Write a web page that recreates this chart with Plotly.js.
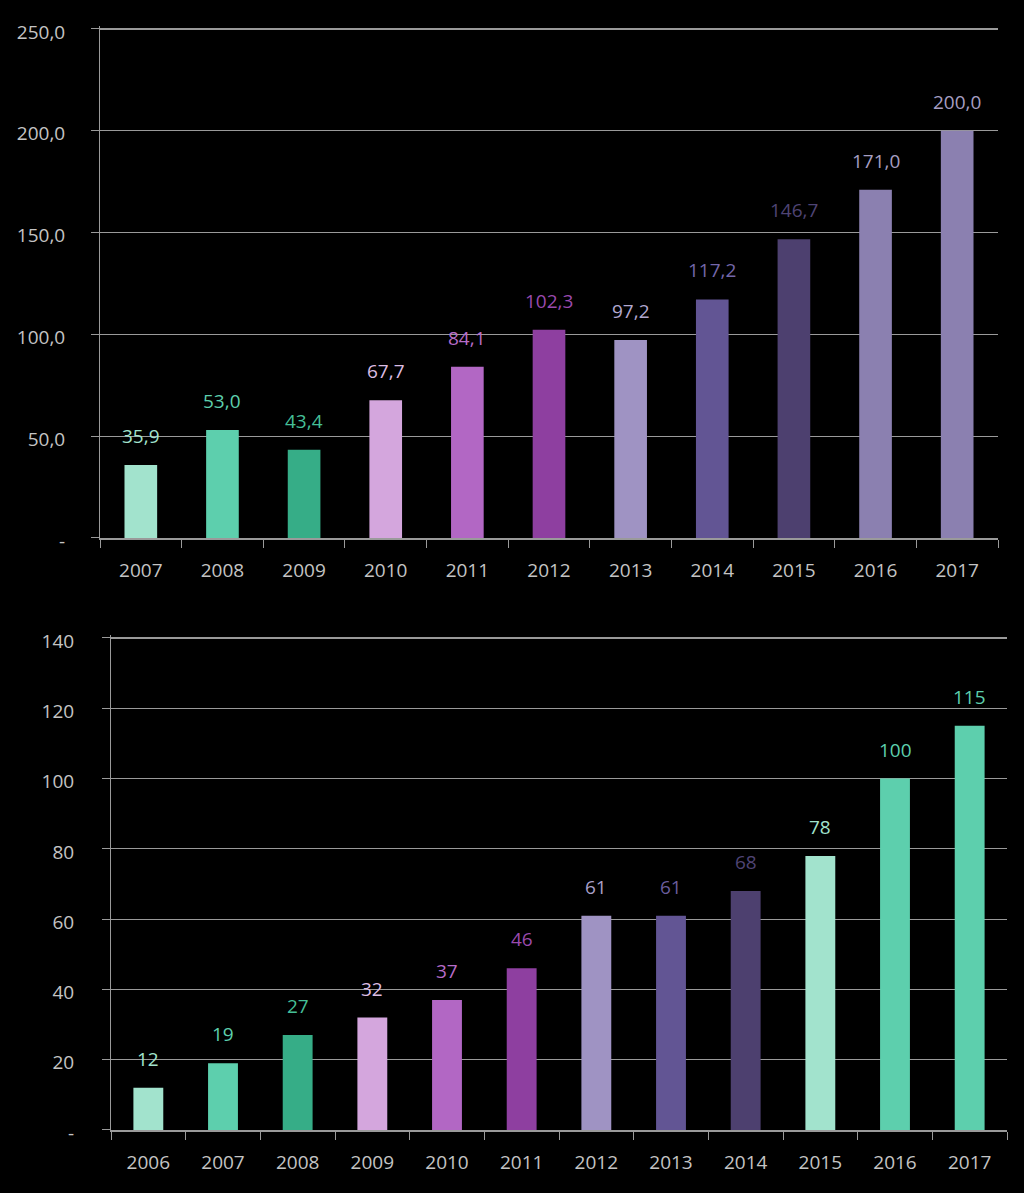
<!DOCTYPE html>
<html>
<head>
<meta charset="utf-8">
<script src="https://cdn.plot.ly/plotly-3.0.1.min.js"></script>
<style>html,body{margin:0;padding:0;background:#000;}#chart{width:1024px;height:1193px;}</style>
</head>
<body>
<div id="chart"></div>
<script>
// ---- Top chart data ----
const topYears = ['2007','2008','2009','2010','2011','2012','2013','2014','2015','2016','2017'];
const topValues = [35.9, 53.0, 43.4, 67.7, 84.1, 102.3, 97.2, 117.2, 146.7, 171.0, 200.0];
const topBarColors = ['#a2e3cd','#5dcfad','#36ad87','#d4a6dd','#b267c4','#8e3fa0','#9f93c3','#625594','#4d406f','#8b80b0','#8b80b0'];
const topLabelColors = ['#a2e3cd','#5dcfad','#45bf97','#dcbde3','#b66cc8','#9a4aae','#b2a8d0','#7467aa','#4f4474','#a69ec2','#a69ec2'];
const topTickVals = [0, 50, 100, 150, 200, 250];
const topTickText = ['-', '50,0', '100,0', '150,0', '200,0', '250,0'];

// ---- Bottom chart data ----
const botYears = ['2006','2007','2008','2009','2010','2011','2012','2013','2014','2015','2016','2017'];
const botValues = [12, 19, 27, 32, 37, 46, 61, 61, 68, 78, 100, 115];
const botBarColors = ['#a2e3cd','#5dcfad','#36ad87','#d4a6dd','#b267c4','#8e3fa0','#9f93c3','#625594','#4d406f','#a2e3cd','#5dcfad','#5dcfad'];
const botLabelColors = ['#a2e3cd','#5dcfad','#45bf97','#dcbde3','#b66cc8','#9a4aae','#a99fc8','#6a5d9c','#4f4474','#a2e3cd','#5dcfad','#5dcfad'];
const botTickVals = [0, 20, 40, 60, 80, 100, 120, 140];
const botTickText = ['-', '20', '40', '60', '80', '100', '120', '140'];

const FONT = 'Open Sans, Segoe UI, sans-serif';
const GRID = '#9a9a9a';
const TXT = '#c4c4c4';
const H = 1193, W = 1024;

const traces = [
  {type:'bar', x: topYears, y: topValues, xaxis:'x', yaxis:'y', width:0.4,
   marker:{color: topBarColors, line:{width:0}}, hoverinfo:'none'},
  {type:'bar', x: botYears, y: botValues, xaxis:'x2', yaxis:'y2', width:0.4,
   marker:{color: botBarColors, line:{width:0}}, hoverinfo:'none'}
];

const annotations = [];
topYears.forEach((yr, i) => {
  annotations.push({xref:'x', yref:'y', x: i, y: topValues[i],
    text: topValues[i].toFixed(1).replace('.', ','), showarrow:false,
    xanchor:'center', yanchor:'middle', yshift: 29, font:{family:FONT, size:19, color: topLabelColors[i]}});
});
botYears.forEach((yr, i) => {
  annotations.push({xref:'x2', yref:'y2', x: i, y: botValues[i],
    text: String(botValues[i]), showarrow:false,
    xanchor:'center', yanchor:'middle', yshift: 29, font:{family:FONT, size:19, color: botLabelColors[i]}});
});

const xCommon = {type:'category', tickson:'boundaries', ticks:'outside', ticklen:8, tickwidth:1,
  tickcolor:GRID, showline:true, linecolor:GRID, linewidth:1.5, showgrid:false, zeroline:false,
  tickfont:{family:FONT, size:19, color:TXT}, fixedrange:true};
const yCommon = {ticks:'outside', ticklen:8, tickwidth:1, tickcolor:GRID, showline:true,
  linecolor:GRID, linewidth:1, showgrid:true, gridcolor:GRID, gridwidth:1.2, zeroline:false,
  tickfont:{family:FONT, size:19, color:TXT}, tickmode:'array', ticklabelshift:3, fixedrange:true};

// top: 0 -> y=538, 250 -> y=29 ; range slightly padded so the 250 gridline is drawn
const topPx = (538 - 29) / 250;
const botPx = (1130 - 638) / 140;
const layout = {
  width: W, height: H,
  paper_bgcolor:'#000', plot_bgcolor:'#000',
  margin:{l:0, r:0, t:0, b:0},
  showlegend:false,
  xaxis: Object.assign({}, xCommon, {domain:[100/W, 998/W], anchor:'y', range:[-0.5, 10.5], ticklabelstandoff:15}),
  yaxis: Object.assign({}, yCommon, {domain:[(H-538)/H, (H-29+topPx*1.5)/H], anchor:'x', range:[0, 251.5],
    tickvals: topTickVals, ticktext: topTickText, ticklabelstandoff:22}),
  xaxis2: Object.assign({}, xCommon, {domain:[111/W, 1007/W], anchor:'y2', range:[-0.5, 11.5], ticklabelstandoff:15}),
  yaxis2: Object.assign({}, yCommon, {domain:[(H-1130)/H, (H-638+botPx*0.8)/H], anchor:'x2', range:[0, 140.8],
    tickvals: botTickVals, ticktext: botTickText, ticklabelstandoff:24}),
  annotations: annotations
};

Plotly.newPlot('chart', traces, layout, {staticPlot:true, displayModeBar:false});
</script>
</body>
</html>
